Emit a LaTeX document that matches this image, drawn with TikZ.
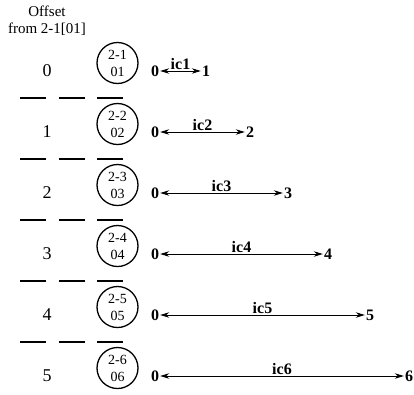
\documentclass[tikz,border=0pt]{standalone}
\usepackage{fontspec}
\setmainfont{Liberation Serif}
\usetikzlibrary{positioning, arrows.meta}

\begin{document}
\begin{tikzpicture}[
    x=1pt, y=-1pt,
    >={Stealth[length=9pt, width=5.5pt, inset=3pt]},
    offset/.style={font=\fontsize{18}{18}\selectfont},
    slot/.style={draw, circle, line width=1.3pt, minimum size=41pt,
                 inner sep=0pt, align=center,
                 font=\fontsize{14}{17}\selectfont},
    tag/.style={font=\fontsize{16}{16}\selectfont\bfseries, inner sep=1pt},
    gap/.style={line width=1.5pt},
]

\useasboundingbox (0,0) rectangle (414,394);

% --- Header ---
\node[font=\fontsize{15}{17}\selectfont, align=center]
    (head) at (47,21) {Offset\\from 2-1[01]};

% --- Rows: offset, slot circle, interval arrow ---
\foreach \i/\xend in {0/206, 1/250, 2/288, 3/328, 4/370, 5/409} {
    \pgfmathsetmacro{\yc}{63+61*\i}
    \pgfmathtruncatemacro{\n}{\i+1}
    \node[offset] (off\i) at (47, \yc+8) {\i};
    \node[slot] (slot\n) at (117.5, \yc) {2-\n\\0\n};
    \node[tag] (src\n) at (155, \yc+8) {0};
    \node[tag] (dst\n) at (\xend, \yc+8) {\n};
    \draw[<->, line width=1pt] (src\n) -- (dst\n)
        node[midway, above, tag] {ic\n};
}

% --- Separators ---
\foreach \i in {0,...,4} {
    \foreach \xa in {20, 59, 97}
        \draw[gap] (\xa, 98+61*\i) -- +(26,0);
}

\end{tikzpicture}
\end{document}
